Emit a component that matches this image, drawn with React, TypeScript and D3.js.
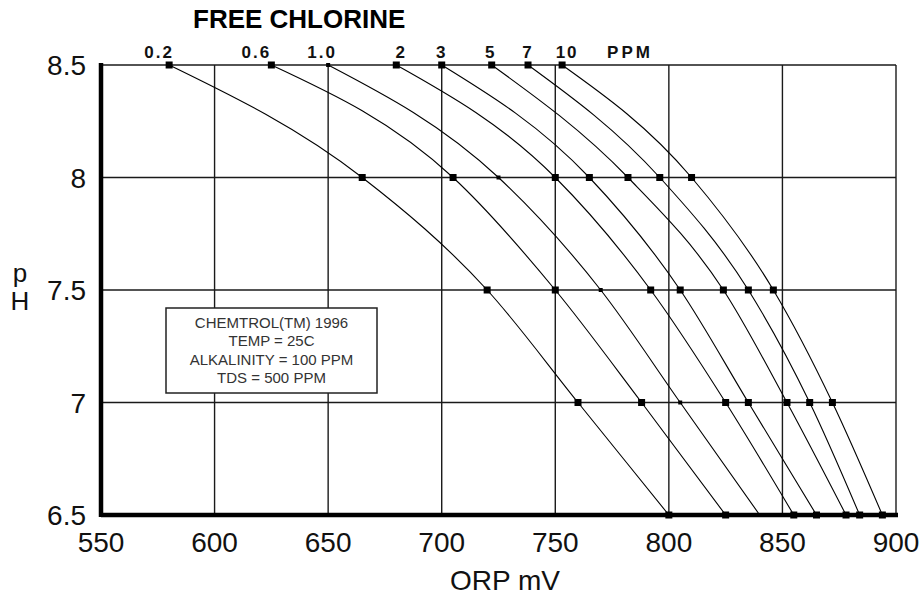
import React from "react";
import * as d3 from "d3";

// free chlorine curves (ppm), ORP mV read at each pH gridline
const phLevels = [8.5, 8, 7.5, 7, 6.5];
const ppmLabels = ["0.2", "0.6", "1.0", "2", "3", "5", "7", "10"];
const orp02 = [580, 665, 720, 760, 800];
const orp06 = [625, 705, 750, 788, 825];
const orp10 = [650, 725, 770, 805, 840];
const orp2 = [680, 750, 792, 825, 855];
const orp3 = [700, 765, 805, 835, 865];
const orp5 = [722, 782, 824, 852, 878];
const orp7 = [738, 796, 835, 862, 884];
const orp10ppm = [753, 810, 846, 872, 894];
const xTicks = [550, 600, 650, 700, 750, 800, 850, 900];
const yTicks = [6.5, 7, 7.5, 8, 8.5];
const noteLines = ["CHEMTROL(TM) 1996", "TEMP = 25C", "ALKALINITY = 100 PPM", "TDS = 500 PPM"];

const series = [orp02, orp06, orp10, orp2, orp3, orp5, orp7, orp10ppm];

const width = 924;
const height = 602;
const font = "'Liberation Sans', Arial, sans-serif";

export default function App() {
  const x = d3.scaleLinear().domain([550, 900]).range([101, 896]);
  const y = d3.scaleLinear().domain([6.5, 8.5]).range([515, 65]);

  const line = d3
    .line<[number, number]>()
    .x((d) => x(d[0]))
    .y((d) => y(d[1]))
    .curve(d3.curveMonotoneX);

  // small nudges so the ppm labels sit like the original
  const labelDx = [-10, -15, -6, 5, 0, -1, 0, 5];

  return (
    <svg width={width} height={height} style={{ position: "absolute", left: 0, top: 0, background: "#fff" }}>
      <rect width={width} height={height} fill="#fff" />
      {/* grid */}
      {xTicks.slice(1).map((t) => (
        <line key={"gx" + t} x1={x(t)} x2={x(t)} y1={y(8.5)} y2={y(6.5)} stroke="#1a1a1a" strokeWidth={1.4} />
      ))}
      {yTicks.slice(1).map((t) => (
        <line key={"gy" + t} x1={x(550)} x2={x(900)} y1={y(t)} y2={y(t)} stroke="#1a1a1a" strokeWidth={1.4} />
      ))}
      {/* axes */}
      <line x1={x(550)} x2={x(550)} y1={y(8.5) - 2} y2={y(6.5) + 2} stroke="#000" strokeWidth={4.5} />
      <line x1={x(550)} x2={x(900) + 2} y1={y(6.5)} y2={y(6.5)} stroke="#000" strokeWidth={4.5} />

      {/* curves */}
      {series.map((s, i) => {
        const pts = s.map((v, j) => [v, phLevels[j]] as [number, number]);
        const sz = i === 2 ? 4 : 7;
        return (
          <g key={"s" + i}>
            <path d={line(pts) || ""} fill="none" stroke="#000" strokeWidth={1.1} />
            {pts.map((p, j) => (
              <rect key={j} x={x(p[0]) - sz / 2} y={y(p[1]) - sz / 2} width={sz} height={sz} fill="#000" />
            ))}
          </g>
        );
      })}

      {/* tick labels */}
      {xTicks.map((t) => (
        <text key={"xl" + t} x={x(t)} y={552} textAnchor="middle" fontFamily={font} fontSize={28} fill="#111">
          {t}
        </text>
      ))}
      {yTicks.map((t) => (
        <text key={"yl" + t} x={86} y={y(t) + 10} textAnchor="end" fontFamily={font} fontSize={28} fill="#111">
          {t}
        </text>
      ))}
      <text x={505} y={590} textAnchor="middle" fontFamily={font} fontSize={28} fill="#111">
        ORP mV
      </text>
      <text x={20} y={282} textAnchor="middle" fontFamily={font} fontSize={26} fill="#111">
        p
      </text>
      <text x={20} y={310} textAnchor="middle" fontFamily={font} fontSize={26} fill="#111">
        H
      </text>

      {/* header */}
      <text x={193} y={28} fontFamily={font} fontSize={26} fontWeight="bold" fill="#000">
        FREE CHLORINE
      </text>
      {ppmLabels.map((lab, i) => (
        <text
          key={"pl" + i}
          x={x(series[i][0]) + labelDx[i]}
          y={58}
          textAnchor="middle"
          fontFamily={font}
          fontSize={17}
          fontWeight="bold"
          letterSpacing={2}
          fill="#111"
        >
          {lab}
        </text>
      ))}
      <text x={630} y={58} textAnchor="middle" fontFamily={font} fontSize={17} fontWeight="bold" letterSpacing={3} fill="#111">
        PPM
      </text>

      {/* note box */}
      <rect x={166} y={308} width={211} height={85} fill="#fff" stroke="#222" strokeWidth={1.5} />
      {noteLines.map((t, i) => (
        <text
          key={"n" + i}
          x={271.5}
          y={328 + i * 18.3}
          textAnchor="middle"
          fontFamily={font}
          fontSize={15}
          fill="#333"
        >
          {t}
        </text>
      ))}
    </svg>
  );
}
